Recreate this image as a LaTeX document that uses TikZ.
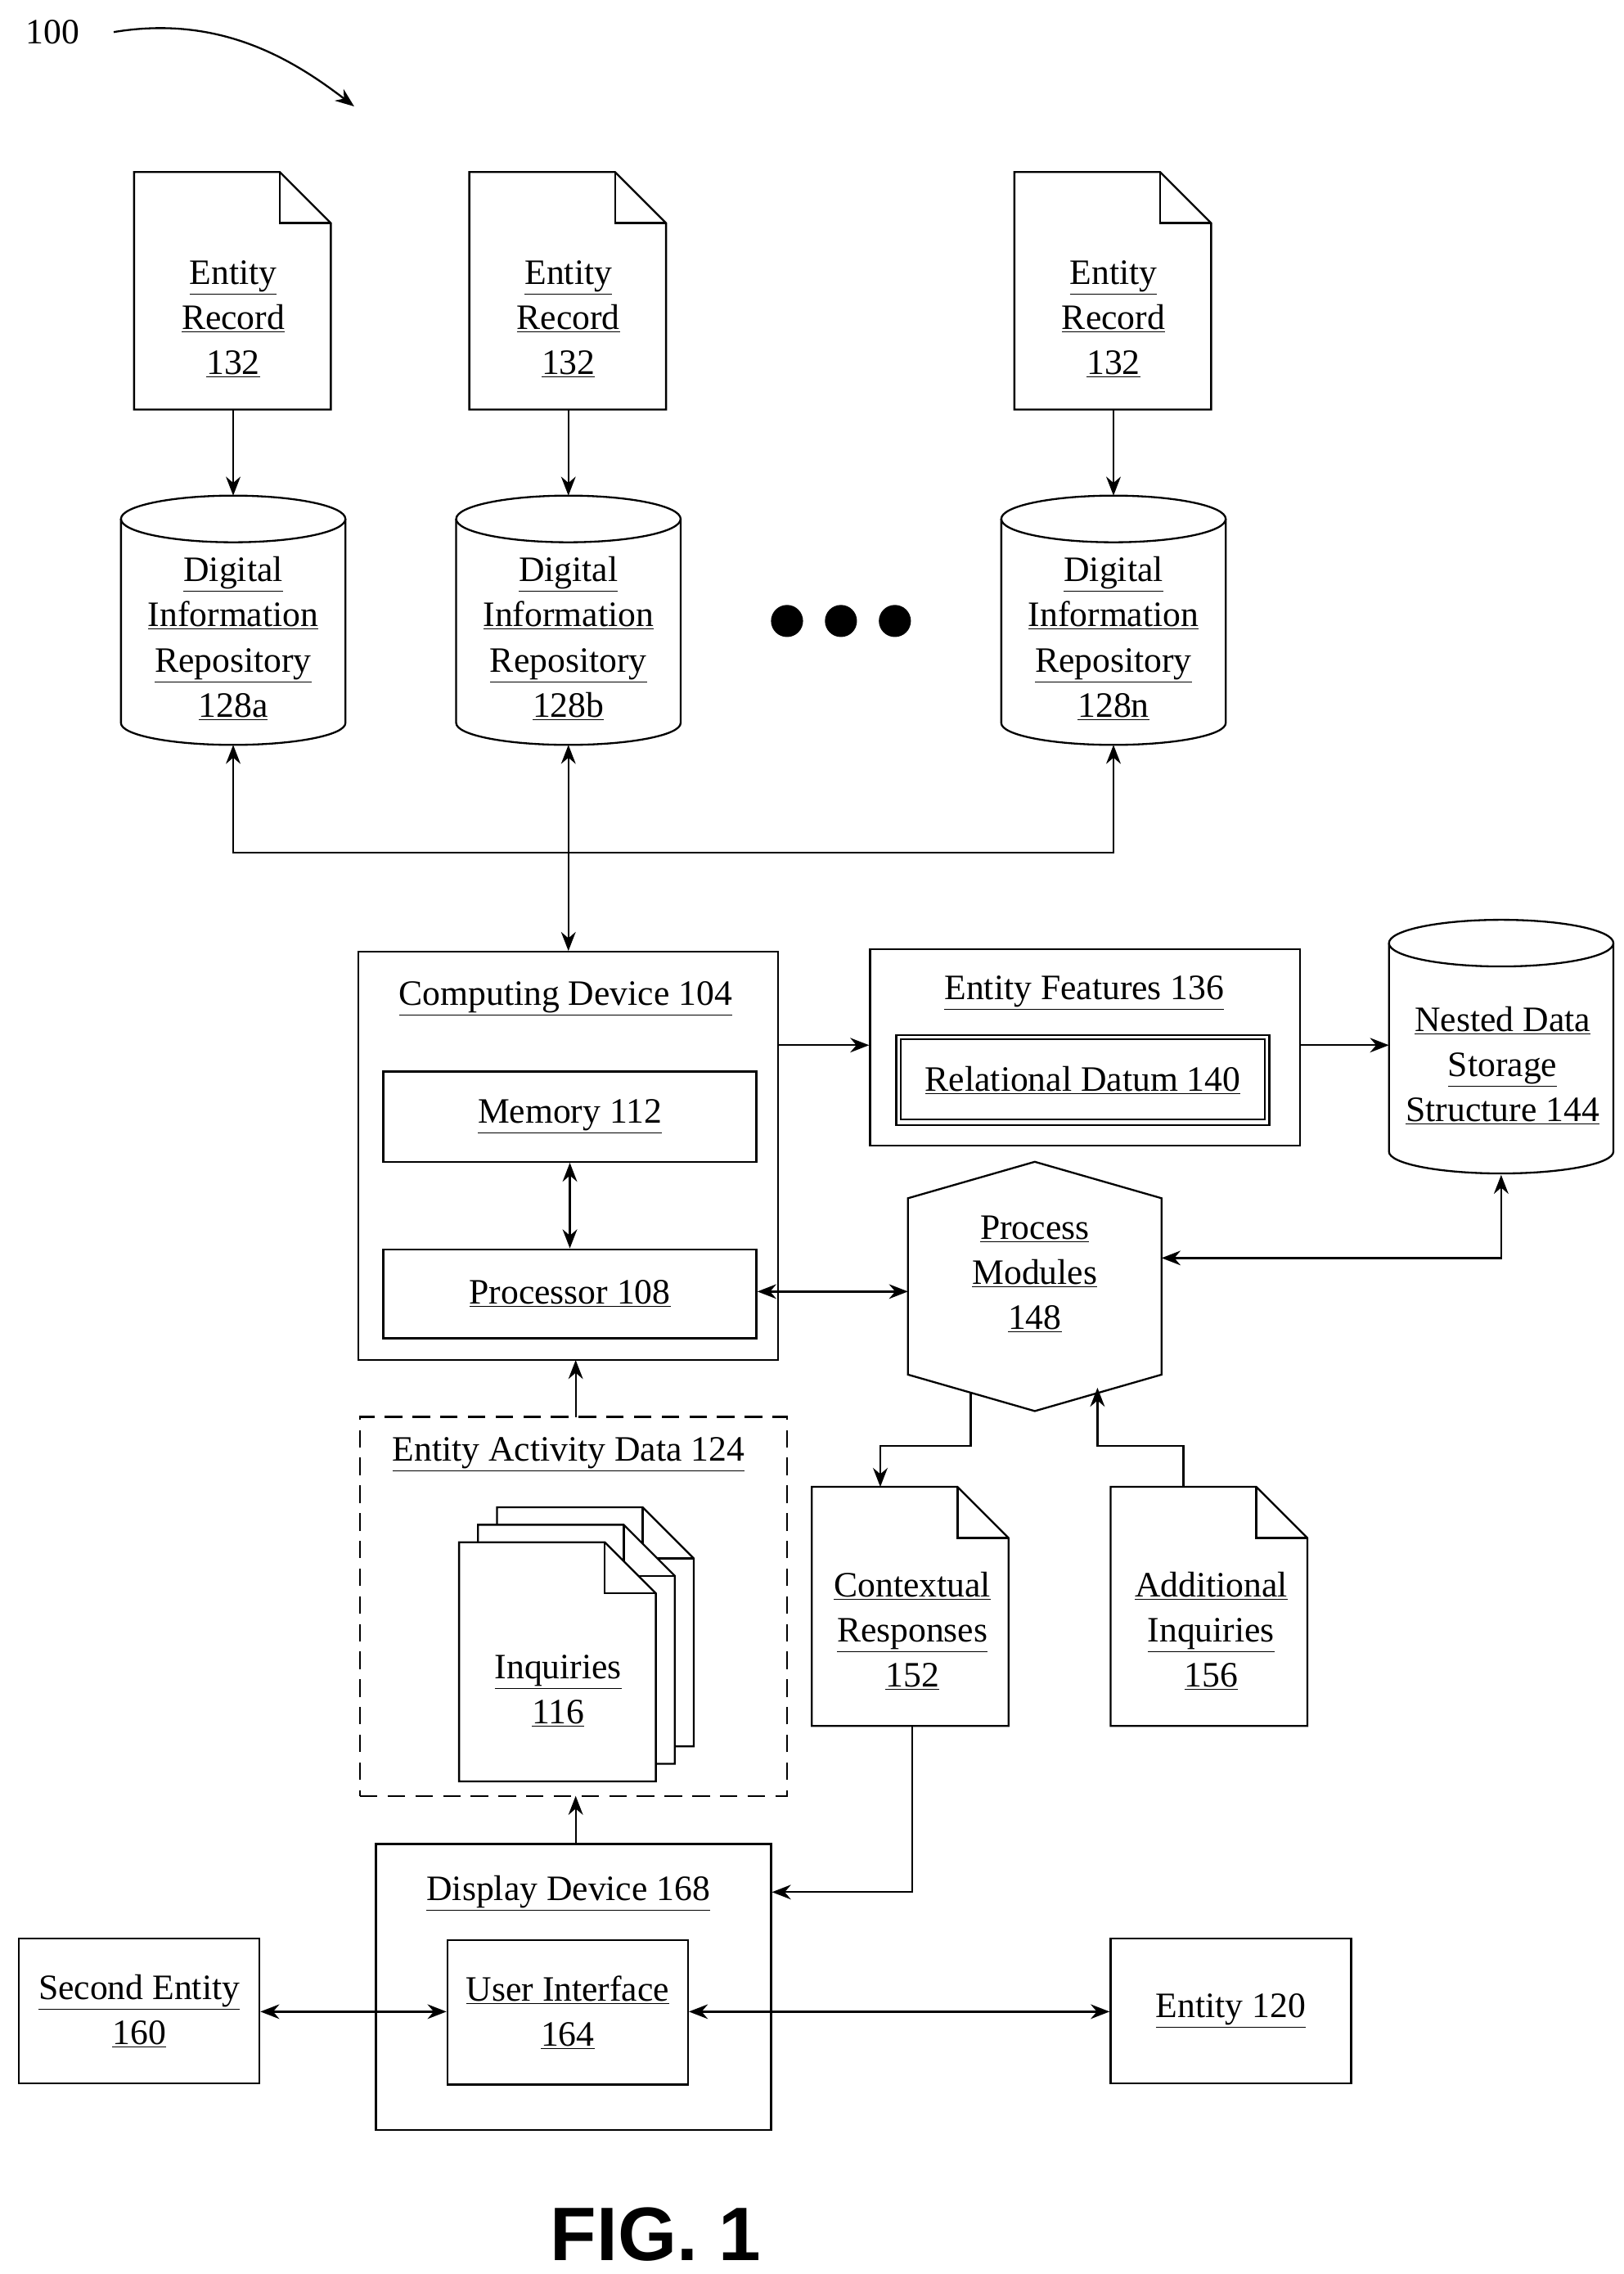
\documentclass[tikz,border=0pt]{standalone}
\usepackage{fontspec}
\setmainfont{Liberation Serif}
\newfontfamily\figfont{Liberation Sans}
\usetikzlibrary{arrows.meta,calc}
\newcommand\ul[1]{\underline{#1}}
\newcommand\docshp[4]{\draw[ln,fill=white] (#1,#2)--(#3-35,#2)--(#3,#2+35)--(#3,#4)--(#1,#4)--cycle;
 \draw[ln] (#3-35,#2)--(#3-35,#2+35)--(#3,#2+35);}
\newcommand\cylshp[4]{% cx, ytop, ybot, halfwidth
 \draw[ln] (#1-#4,#2)--(#1-#4,#3) arc[start angle=180,end angle=0,x radius=#4,y radius=15]--(#1+#4,#2);
 \draw[ln] (#1,#2) ellipse[x radius=#4,y radius=16];}
\begin{document}
\begin{tikzpicture}[x=1pt,y=-1pt,
 ln/.style={line width=1.3pt},
 box/.style={ln,draw,rectangle,inner sep=0pt},
 lbl/.style={align=center,font=\fontsize{24.5}{31}\selectfont,inner sep=0pt},
 ar/.style={ln,-{Stealth[length=13pt,width=10pt]}},
 dar/.style={ln,{Stealth[length=13pt,width=10pt]}-{Stealth[length=13pt,width=10pt]}}]
\useasboundingbox (0,0) rectangle (1114,1560);
% label 100
\node[lbl,anchor=center] (n100) at (36,22) {100};
\coordinate (c100a) at (78,22);
\coordinate (c100b) at (243,73);
\draw[ar] (c100a) .. controls (150,10) and (200,40) .. (c100b);
% entity records
\foreach \x/\n in {160/1,390/2,764/3}{
 \docshp{\x-68}{118}{\x+67}{281}
 \node[lbl] (er\n) at (\x,219) {\ul{Entity}\\\ul{Record}\\\ul{132}};
 \coordinate (ert\n) at (\x,281);
 \coordinate (cyt\n) at (\x,340);
 \draw[ar] (ert\n)--(cyt\n);
 \cylshp{\x}{356}{496}{77}
}
\node[lbl] (r1) at (160,438) {\ul{Digital}\\\ul{Information}\\\ul{Repository}\\\ul{128a}};
\node[lbl] (r2) at (390,438) {\ul{Digital}\\\ul{Information}\\\ul{Repository}\\\ul{128b}};
\node[lbl] (r3) at (764,438) {\ul{Digital}\\\ul{Information}\\\ul{Repository}\\\ul{128n}};
\foreach \x in {540,577,614}{\fill (\x,426) circle (11);}
% bus
\coordinate (b1) at (160,511); \coordinate (b3) at (764,511);
\coordinate (b2) at (390,511);
\draw[ar] (390,585)-|(b1);
\draw[ar] (390,585)-|(b3);
% computing device
\node[box,minimum width=288,minimum height=280] (cd) at (390,793) {};
\draw[dar] (b2)--(cd.north);
\node[lbl] (cdt) at (388,685) {\ul{Computing Device 104}};
\node[box,minimum width=256,minimum height=62] (mem) at (391,766) {};
\node[box,minimum width=256,minimum height=61] (proc) at (391,887.5) {};
\node[lbl] at (mem) {\ul{Memory 112}};
\node[lbl] at (proc) {\ul{Processor 108}};
\draw[dar] (mem.south)--(proc.north);
% entity features
\node[box,minimum width=295,minimum height=135] (ef) at (744.5,718.5) {};
\node[lbl] (eft) at (744,681) {\ul{Entity Features 136}};
\node[box,minimum width=256,minimum height=62] (rd) at (743,741) {};
\draw[ln] (618,713) rectangle (868,768);
\node[lbl] at (rd) {\ul{Relational Datum 140}};
\draw[ar] (534,717)--(ef.west|-534,717);
\coordinate (nsl) at (953,717);
\draw[ar] (892,717)--(nsl);
% nested storage
\cylshp{1030}{647}{790}{77}
\node[lbl] (ns) at (1031,731) {\ul{Nested Data}\\\ul{Storage}\\\ul{Structure 144}};
\coordinate (nsb) at (1030,806);
% process modules
\draw[ln] (623,822)--(710,797)--(797,822)--(797,943)--(710,968)--(623,943)--cycle;
\node[lbl] (pm) at (710,874) {\ul{Process}\\\ul{Modules}\\\ul{148}};
\coordinate (pmw) at (623,886);
\coordinate (pme) at (797,863);
\draw[dar] (proc.east|-pmw)--(pmw);
\draw[dar] (pme)-|(nsb);
% contextual / additional
\docshp{557}{1020}{692}{1184}
\node[lbl] (cr) at (626,1119) {\ul{Contextual}\\\ul{Responses}\\\ul{152}};
\docshp{762}{1020}{897}{1184}
\node[lbl] (ai) at (831,1119) {\ul{Additional}\\\ul{Inquiries}\\\ul{156}};
\coordinate (crt) at (604,1020);
\draw[ar] (666,955)--(666,992)-|(crt);
\coordinate (pmb) at (753,952);
\draw[ar] (812,1020)--(812,992)-|(pmb);
% entity activity data
\node[box,dashed,dash pattern=on 12pt off 7pt,minimum width=293,minimum height=260] (ead) at (393.5,1102) {};
\node[lbl,fill=white,inner sep=2pt] (eadt) at (390,998) {\ul{Entity Activity Data 124}};
\draw[ar] (395,972)--(395,933);
\docshp{341}{1034}{476}{1198}
\docshp{328}{1046}{463}{1210}
\docshp{315}{1058}{450}{1222}
\node[lbl] (inq) at (383,1160) {\ul{Inquiries}\\\ul{116}};
% display device
\node[box,minimum width=271,minimum height=196] (dd) at (393.5,1363) {};
\node[lbl] (ddt) at (390,1299) {\ul{Display Device 168}};
\draw[ar] (395,1265)--(395,1232);
\node[box,minimum width=165,minimum height=99] (ui) at (389.5,1380.5) {};
\node[lbl] at (ui) {\ul{User Interface}\\\ul{164}};
\draw[ar] (626,1184)--(626,1298)--(dd.east|-626,1298);
\node[box,minimum width=165,minimum height=99] (se) at (95.5,1379.5) {};
\node[lbl] at (se) {\ul{Second Entity}\\\ul{160}};
\node[box,minimum width=165,minimum height=99] (e120) at (844.5,1379.5) {};
\node[lbl] at (e120) {\ul{Entity 120}};
\draw[dar] (se.east|-0,1380)--(ui.west|-0,1380);
\draw[dar] (ui.east|-0,1380)--(e120.west|-0,1380);
\node[font=\figfont\bfseries\fontsize{52}{56}\selectfont,inner sep=0pt] (fig) at (450,1533) {FIG. 1};
\end{tikzpicture}
\end{document}
